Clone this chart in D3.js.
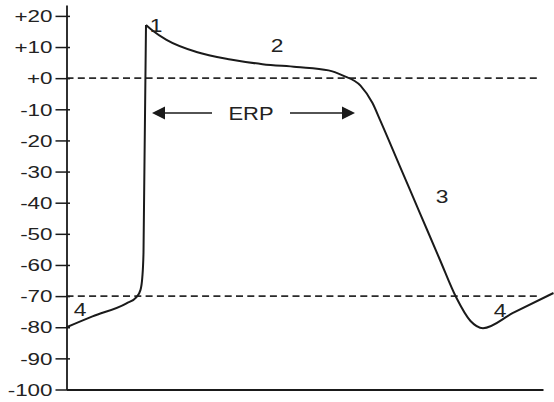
<!DOCTYPE html>
<html>
<head>
<meta charset="utf-8">
<script src="https://cdn.jsdelivr.net/npm/d3@7"></script>
<style>
  body { margin: 0; background: #fff; }
  svg { display: block; }
  text { font-family: "Liberation Sans", Arial, sans-serif; fill: #222; }
</style>
</head>
<body>
<div class="vis-ap"></div>
<script>
// membrane potential (mV) against time (arbitrary units)
const tickValues = [20, 10, 0, -10, -20, -30, -40, -50, -60, -70, -80, -90, -100];
const tickLabels = ['+20', '+10', '+0', '-10', '-20', '-30', '-40', '-50', '-60', '-70', '-80', '-90', '-100'];

// phase 4 + upstroke (phase 0)
const riseT = [0, 26, 60, 70, 74, 75.8, 77, 79.5];
const riseV = [-80, -76.5, -72.3, -70.3, -68, -64, -56, 17.1];

// phases 1, 2, 3 and back to 4
const fallT = [79.5, 86, 100, 130, 164, 196, 230, 262, 276, 294, 306, 313.5, 333.5, 353.5, 373.5, 389.5, 404, 416.5, 446, 487];
const fallV = [17.1, 15.3, 12.3, 8.4, 6.0, 4.5, 3.6, 2.5, 0.9, -2.4, -8, -13.4, -28.4, -43.4, -58.4, -70.3, -78, -80.3, -75.5, -69];

const refLevels = [0, -70];
const refEnd = 470.5;

const phaseNames = ['1', '2', '3', '4', '4'];
const phaseT = [89.5, 210.5, 375.5, 13.5, 433.5];
const phaseV = [14.9, 8.4, -40.1, -76.4, -76.7];

const erpStart = 85.5, erpEnd = 288.5, erpV = -11.2;
const erpLabel = 'ERP', erpLabelT = 184.5, erpLabelV = -13.4;

const W = 554, H = 402;
const svg = d3.select('.vis-ap').append('svg')
    .attr('width', W)
    .attr('height', H);

const x = d3.scaleLinear().domain([0, 476.5]).range([66.5, 543]);
const y = d3.scaleLinear().domain([-100, 23.5]).range([389.5, 5]);

const ink = '#1a1a1a';

// dashed reference lines
svg.selectAll('.ref')
    .data(refLevels)
    .join('line')
    .attr('class', 'ref')
    .attr('x1', x(0)).attr('x2', x(refEnd))
    .attr('y1', d => y(d)).attr('y2', d => y(d))
    .attr('stroke', '#2a2a2a')
    .attr('stroke-width', 1.9)
    .attr('stroke-dasharray', '7,4.3');

// axes
const yAxis = svg.append('g')
    .attr('transform', 'translate(' + x(0) + ',0)')
    .call(d3.axisLeft(y).tickValues(tickValues).tickSizeOuter(0).tickSizeInner(0));
yAxis.select('.domain').attr('stroke', ink).attr('stroke-width', 1.8);
yAxis.selectAll('.tick line')
    .attr('x1', -11).attr('x2', 3.5)
    .attr('stroke', ink).attr('stroke-width', 1.5);
yAxis.selectAll('.tick text').remove();
yAxis.selectAll('.tick').append('text')
    .attr('transform', 'translate(-14,0) scale(1.4,1)')
    .attr('dy', '0.36em')
    .attr('text-anchor', 'end')
    .style('font-size', '16px')
    .style('fill', '#222')
    .text((d, i) => tickLabels[i]);

const xAxis = svg.append('g')
    .attr('transform', 'translate(0,' + y(-100) + ')')
    .call(d3.axisBottom(x).tickValues([]).tickSizeOuter(0));
xAxis.select('.domain').attr('stroke', ink).attr('stroke-width', 1.8);

// action potential trace
const line = d3.line()
    .x(d => x(d[0]))
    .y(d => y(d[1]))
    .curve(d3.curveMonotoneX);

const rise = riseT.map((t, i) => [t, riseV[i]]);
const fall = fallT.map((t, i) => [t, fallV[i]]);

[rise, fall].forEach(seg => {
    svg.append('path')
        .attr('d', line(seg))
        .attr('fill', 'none')
        .attr('stroke', ink)
        .attr('stroke-width', 2)
        .attr('stroke-linejoin', 'round');
});

// phase numbers
svg.selectAll('.phase')
    .data(phaseNames)
    .join('text')
    .attr('class', 'phase')
    .attr('transform', (d, i) => 'translate(' + x(phaseT[i]) + ',' + y(phaseV[i]) + ') scale(1.2,1)')
    .attr('text-anchor', 'middle')
    .style('font-size', '19px')
    .text(d => d);

// ERP arrows
const ah = 13, aw = 6.5;
const ey = y(erpV);
svg.append('line')
    .attr('x1', x(erpStart) + ah - 1).attr('x2', 212)
    .attr('y1', ey).attr('y2', ey)
    .attr('stroke', ink).attr('stroke-width', 1.6);
svg.append('line')
    .attr('x1', 290).attr('x2', x(erpEnd) - ah + 1)
    .attr('y1', ey).attr('y2', ey)
    .attr('stroke', ink).attr('stroke-width', 1.6);
svg.append('path')
    .attr('d', 'M' + x(erpStart) + ',' + ey + 'L' + (x(erpStart) + ah) + ',' + (ey - aw) + 'L' + (x(erpStart) + ah) + ',' + (ey + aw) + 'Z')
    .attr('fill', ink);
svg.append('path')
    .attr('d', 'M' + x(erpEnd) + ',' + ey + 'L' + (x(erpEnd) - ah) + ',' + (ey - aw) + 'L' + (x(erpEnd) - ah) + ',' + (ey + aw) + 'Z')
    .attr('fill', ink);

svg.append('text')
    .attr('transform', 'translate(' + x(erpLabelT) + ',' + y(erpLabelV) + ') scale(1.22,1)')
    .attr('text-anchor', 'middle')
    .style('font-size', '18px')
    .text(erpLabel);
</script>
</body>
</html>
